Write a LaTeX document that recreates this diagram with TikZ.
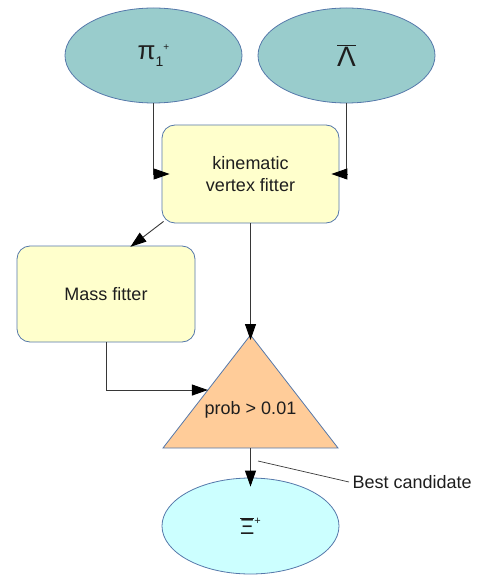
\documentclass[tikz,border=0pt]{standalone}
\usepackage{fontspec}
\setmainfont{Liberation Sans}
\usetikzlibrary{arrows.meta,calc,shapes.geometric}

\definecolor{edgeblue}{RGB}{85,120,170}
\definecolor{tealfill}{RGB}{153,204,204}
\definecolor{boxfill}{RGB}{255,255,204}
\definecolor{trifill}{RGB}{255,204,153}
\definecolor{xifill}{RGB}{204,255,255}
\definecolor{linegray}{RGB}{55,55,55}
\definecolor{inkgray}{RGB}{30,30,30}

\begin{document}
\begin{tikzpicture}[x=1pt,y=-1pt,
  txt/.style={font=\fontsize{18}{22}\selectfont, text=inkgray},
  particle/.style={ellipse, draw=edgeblue, line width=0.8pt,
    minimum width=177pt, minimum height=95pt, inner sep=0pt, text=inkgray},
  fitbox/.style={rectangle, rounded corners=13pt, draw=edgeblue, line width=0.8pt,
    fill=boxfill, inner sep=0pt, txt},
  flow/.style={draw=linegray, line width=0.9pt,
    -{Triangle[length=16pt,width=11pt,color=black]}},
  pointer/.style={draw=linegray, line width=0.7pt},
]
\useasboundingbox (0,0) rectangle (481,577);

% input particles
\node[particle, fill=tealfill] (pi) at (153.5,55.5)
  {\fontsize{26}{26}\selectfont π\raisebox{-7pt}{\fontsize{14}{14}\selectfont 1}\raisebox{9pt}{\fontsize{10}{10}\selectfont +}};
\node[particle, fill=tealfill] (lam) at (346.5,55.5)
  {\fontsize{28}{28}\selectfont $\overline{\hbox{Λ}}$};

% fitting stages
\node[fitbox, minimum width=177pt, minimum height=98pt, align=center] (kin) at (250.5,174)
  {kinematic\\vertex fitter};
\node[fitbox, minimum width=178pt, minimum height=96pt] (mass) at (106,294) {Mass fitter};

% probability cut
\coordinate (apex) at (250.5,335);
\coordinate (bl) at (163,448);
\coordinate (br) at (338,448);
\coordinate (bm) at ($(bl)!0.5!(br)$);
\coordinate (tl) at ($(apex)!0.487!(bl)$);
\path[fill=trifill, draw=edgeblue, line width=0.8pt] (apex) -- (br) -- (bl) -- cycle;
\node[txt] (prob) at (250.5,410) {prob > 0.01};

% output particle
\node[particle, fill=xifill, minimum height=96pt] (xi) at (250.5,526)
  {\fontsize{22}{22}\selectfont $\overline{\hbox{Ξ}}$\raisebox{10pt}{\fontsize{11}{11}\selectfont +}};

% connectors
\draw[flow, shorten >=-8pt] (pi.south) |- (kin.west);
\draw[flow, shorten >=-8pt] (lam.south) |- (kin.east);
\coordinate (kcorner) at ($(kin.south west)+(2,-2)$);
\coordinate (mtop) at ($(mass.north)+(26,0)$);
\draw[flow, shorten >=-2pt] (kcorner) -- (mtop);
\draw[flow, shorten >=-5pt] (kin.south) -- (apex);
\draw[flow] (mass.south) |- (tl);
\draw[flow, shorten >=-9pt] (bm) -- (xi.north);

% annotation
\node[txt, anchor=west] (bc) at (349,482) {Best candidate};
\coordinate (bcpt) at (258,461);
\draw[pointer] (bcpt) -- (bc.west);
\end{tikzpicture}
\end{document}
